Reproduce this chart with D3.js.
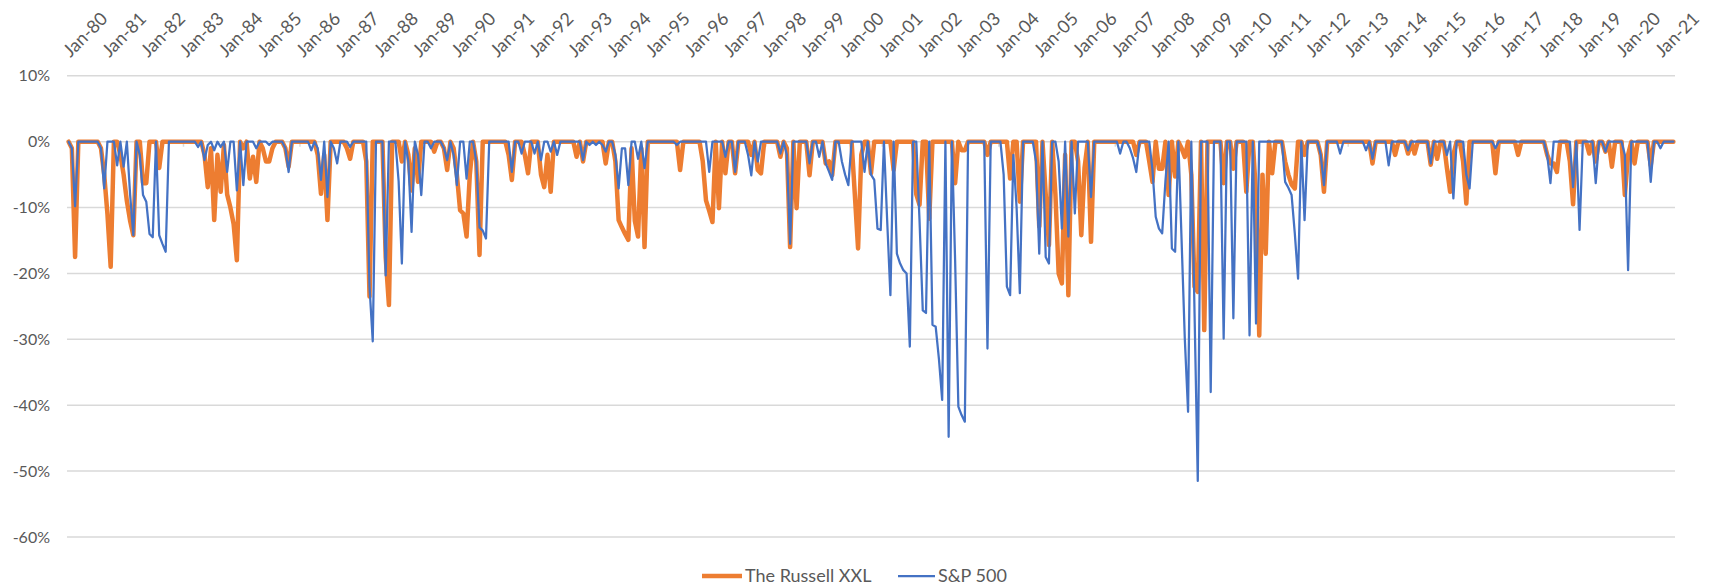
<!DOCTYPE html>
<html>
<head>
<meta charset="utf-8">
<script src="https://cdn.jsdelivr.net/npm/d3@7"></script>
<style>
  body { margin: 0; background: #fff; }
  text { font-family: Lato, "Open Sans", sans-serif; fill: #595959; }
</style>
</head>
<body>
<script>
// monthly drawdowns (%), Jan-80 .. May-21
let russell = [
    0,-1,-17.5,0,0,0,0,0,0,0,-1,-5,
    -11,-19,0,0,-2,-5,-9,-12,-14.2,0,0,-6.3,
    -6.3,0,0,0,-4,0,0,0,0,0,0,0,
    0,0,0,0,0,0,-2,-6.9,-1,-11.9,-2,-7.6,
    -0.5,-8,-10,-12.5,-18,0,-1,0,-5.6,-2.3,-6.1,0,
    -1,-3,-3,-1,0,0,0,-1,-3.8,0,0,0,
    0,0,0,0,0,-2,-7.9,-2,-11.9,0,0,0,
    0,0,-1,-2.6,0,0,0,0,-3,-23.5,0,0,
    0,0,-17.5,-24.8,0,0,0,-3,0,-2,-7.4,-1,
    -6.1,0,0,0,0,-1.5,0,0,-1,-4.3,0,-1,
    -5,-10.4,-10.9,-14.4,-5,0,-3,-17.2,0,0,0,0,
    0,0,0,0,-2,-5.8,0,0,0,-2,-4.8,0,
    0,0,-5,-6.9,-2,-7.6,0,0,0,0,0,0,
    0,-2.3,0,-3,0,0,0,0,0,0,-3.3,0,
    0,-3,-11.9,-13,-14,-14.9,-1,-12,-14.4,-1,-16,0,
    0,0,0,0,0,0,0,0,0,-4.3,0,0,
    0,0,0,0,-3,-8.9,-10.5,-12.2,0,-10.1,0,-4.8,
    0,0,-4.8,0,0,0,0,-2,0,-4.3,-4.8,0,
    0,0,0,0,-2.3,0,-1,-16,0,-10.1,0,0,
    0,-5.1,0,0,0,0,-3.3,-3,-5.1,0,0,0,
    0,0,0,-8,-16.2,-2,0,0,-4.8,0,0,0,
    0,0,0,-4.3,0,0,0,0,0,0,-8,-9.6,
    0,0,-11.7,0,0,0,0,0,0,0,-6.3,0,
    -1.3,-1.3,0,0,0,0,0,0,-2,0,0,0,
    0,0,0,-5.6,0,0,-9.1,0,0,0,0,0,
    -12.9,0,-8,-15.7,0,-8,-20,-21.5,-2,-23.3,0,0,
    -3,-14.2,-4,0,-15.2,0,0,0,0,0,0,0,
    0,0,0,0,0,0,-2,0,0,0,-3,-6.1,
    0,-4.1,-4.1,0,-8.1,0,-5.3,0,-1,-2.3,0,-5,
    -22,-22.8,0,-28.6,0,0,0,0,0,-6.3,0,0,
    -4.1,0,0,0,-7.6,0,0,-8,-29.4,-5,-17,0,
    -4.8,0,0,0,-3,-5,-6.5,-7.1,0,0,-2,0,
    0,0,0,-2,-7.6,0,0,0,0,0,0,0,
    0,0,0,0,0,0,0,-3.3,0,0,0,0,
    0,0,-2,0,0,0,-1.8,0,-1.8,0,0,0,
    0,-3.5,0,-2.6,0,0,-4,-7.6,-2,0,0,-3,
    -9.4,0,0,0,0,0,0,0,0,-4.8,0,0,
    0,0,0,0,-2,0,0,0,0,0,0,0,
    0,-2,-3.3,-3.3,-4.6,0,0,0,-3,-9.5,0,0,
    0,0,-1.8,0,-3,0,0,-1.5,0,-3.8,0,0,
    0,-8.1,-2,0,-3.3,0,0,0,0,-3.6,0,0,
    0,0,0,0,0
];

let sp500 = [
    0,-1,-9.8,0,0,0,0,0,0,0,-1,-7.1,
    0,0,0,-3.6,0,-3.8,0,-8,-14.2,0,-2,-8.1,
    -9.1,-14,-14.5,0,-14.2,-15.5,-16.7,0,0,0,0,0,
    0,0,0,0,-0.8,0,-2.8,-0.5,0,-1.3,0,-0.8,
    0,-4.6,0,0,-7.4,0,-6.6,0,0,0,-1,0,
    0,0,-0.5,0,0,0,0,-1,-4.6,0,0,0,
    0,0,0,-1.3,0,-1,-5.8,0,-8.4,0,-1,-3.3,
    0,0,0,-0.8,0,0,0,0,0,-22,-30.3,0,
    0,0,-20.3,0,0,0,-6,-18.5,0,-3,-13.7,0,
    -2,-8.1,0,0,-1,0,0,0,-1,-2.8,0,-2,
    -6.6,0,0,-5.6,0,0,-3,-13,-13.5,-14.7,0,0,
    0,0,0,0,0,-4.6,0,0,-1.8,0,0,0,
    -1.8,0,-2.8,0,0,-1.5,0,-2,0,0,0,0,
    0,0,0,-2.8,0,-0.5,0,-0.5,0,-0.5,-1.5,0,
    0,-2,-7.1,-1,-1,-6.6,0,0,-2.6,0,-4,0,
    0,0,0,0,0,0,0,0,-0.5,0,0,0,
    0,0,0,0,0,0,-4.6,0,0,0,0,-2.3,
    0,0,-4.6,0,0,0,-2,-5.1,0,-3,0,0,
    0,0,0,0,-1.8,0,-2,-15.5,0,0,0,0,
    0,-3.3,0,0,-2.3,0,-3.3,-4.5,-5.8,0,0,-3,
    -5,-6.6,0,0,0,0,-4.6,0,-5,-5.8,-13.2,-13.4,
    0,-12,-23.3,0,-17,-18.5,-19.5,-20,-31.1,0,0,-12,
    -25.6,-26,0,-27.8,-28.1,-33,-39.2,0,-44.8,0,-18,-40.2,
    -41.5,-42.5,0,0,0,0,0,0,-31.4,0,0,0,
    0,-5,-22,-23.3,-2,-10,-23,0,0,0,0,-3,
    -17,0,-17.5,-18.5,0,0,-3,-13.2,0,-14.4,0,-10.9,
    0,0,0,0,-8.4,0,0,0,0,0,0,0,
    0,-1.8,0,0,-1,-2.5,-4.6,0,0,0,0,-4.3,
    -11.4,-13.2,-13.9,-6,0,-16.2,-16.7,0,-15,-30,-41,0,
    -26,-51.5,0,0,0,-38,0,0,0,-29.9,0,0,
    -26.8,0,0,0,0,-29.4,0,-27.6,0,0,0,0,
    0,0,0,0,-6.1,-7,-8.1,-14,-20.8,0,-11.9,0,
    0,0,0,-2,-6.6,0,0,0,0,-1.8,0,0,
    0,0,0,0,0,-1.3,0,-2.6,0,0,0,0,
    -3.6,0,0,0,0,0,-1.3,0,0,0,0,0,
    0,-3.3,0,0,0,0,-2,0,-8.6,0,0,0,
    -5,-7.1,0,0,0,0,0,0,0,-1,0,0,
    0,0,0,0,0,0,0,0,0,0,0,0,
    0,-2,-6.3,0,0,0,0,0,0,-6.9,0,-13.4,
    0,0,0,0,-6.3,0,0,-1.5,0,0,0,0,
    0,-2,-19.5,0,0,0,0,0,0,-6.1,0,0,
    -1,0,0,0,0
];

let yearLabels = ["Jan-80","Jan-81","Jan-82","Jan-83","Jan-84","Jan-85","Jan-86","Jan-87",
    "Jan-88","Jan-89","Jan-90","Jan-91","Jan-92","Jan-93","Jan-94","Jan-95","Jan-96",
    "Jan-97","Jan-98","Jan-99","Jan-00","Jan-01","Jan-02","Jan-03","Jan-04","Jan-05",
    "Jan-06","Jan-07","Jan-08","Jan-09","Jan-10","Jan-11","Jan-12","Jan-13","Jan-14",
    "Jan-15","Jan-16","Jan-17","Jan-18","Jan-19","Jan-20","Jan-21"];

let yTicks = [10, 0, -10, -20, -30, -40, -50, -60];

let seriesNames = ["The Russell XXL", "S&P 500"];
let colors = ["#ED7D31", "#4472C4"];

let width = 1713, height = 588;
let plotLeft = 67, plotRight = 1675, plotTop = 75.8, plotBottom = 537;

let svg = d3.select("body").append("svg")
    .attr("width", width)
    .attr("height", height);

let x = d3.scaleBand()
    .domain(d3.range(russell.length))
    .range([plotLeft, plotRight]);
let bw = x.bandwidth();
let cx = function (i) { return x(i) + bw / 2; };

let y = d3.scaleLinear()
    .domain([-60, 10])
    .range([plotBottom, plotTop]);

// gridlines
svg.append("g")
    .selectAll("line")
    .data(yTicks)
    .enter().append("line")
    .attr("x1", plotLeft)
    .attr("x2", plotRight)
    .attr("y1", d => y(d))
    .attr("y2", d => y(d))
    .style("stroke", "#d9d9d9")
    .style("stroke-width", 1.5);

// y labels
svg.append("g")
    .selectAll("text")
    .data(yTicks)
    .enter().append("text")
    .attr("x", 50)
    .attr("y", d => y(d))
    .attr("dy", "0.35em")
    .attr("text-anchor", "end")
    .style("font-size", "16px")
    .text(d => d + "%");

// small tick marks on the zero line, every 36 months
svg.append("g")
    .selectAll("line")
    .data(d3.range(36, russell.length, 36))
    .enter().append("line")
    .attr("x1", d => x(d))
    .attr("x2", d => x(d))
    .attr("y1", y(0))
    .attr("y2", y(0) + 5)
    .style("stroke", "#d9d9d9")
    .style("stroke-width", 1.5);

// x labels (rotated)
svg.append("g")
    .selectAll("text")
    .data(yearLabels)
    .enter().append("text")
    .attr("transform", (d, k) => "translate(" + (cx(k * 12) + 2) + ",58) rotate(-45)")
    .attr("text-anchor", "start")
    .style("font-size", "18px")
    .text(d => d);

let line = d3.line()
    .x((d, i) => cx(i))
    .y(d => y(d));

[russell, sp500].forEach(function (s, k) {
    svg.append("path")
        .datum(s)
        .attr("d", line)
        .style("fill", "none")
        .style("stroke", colors[k])
        .style("stroke-width", k === 0 ? 4.5 : 2.25)
        .style("stroke-linejoin", "round")
        .style("stroke-linecap", "round");
});

// legend
let legend = svg.append("g");
let lx = [702, 898];
let llen = [40, 37];
seriesNames.forEach(function (name, k) {
    legend.append("line")
        .attr("x1", lx[k])
        .attr("x2", lx[k] + llen[k])
        .attr("y1", 576)
        .attr("y2", 576)
        .style("stroke", colors[k])
        .style("stroke-width", k === 0 ? 4.5 : 2.25);
    legend.append("text")
        .attr("x", lx[k] + llen[k] + 3)
        .attr("y", 576)
        .attr("dy", "0.35em")
        .style("font-size", "18px")
        .text(name);
});
</script>
</body>
</html>
